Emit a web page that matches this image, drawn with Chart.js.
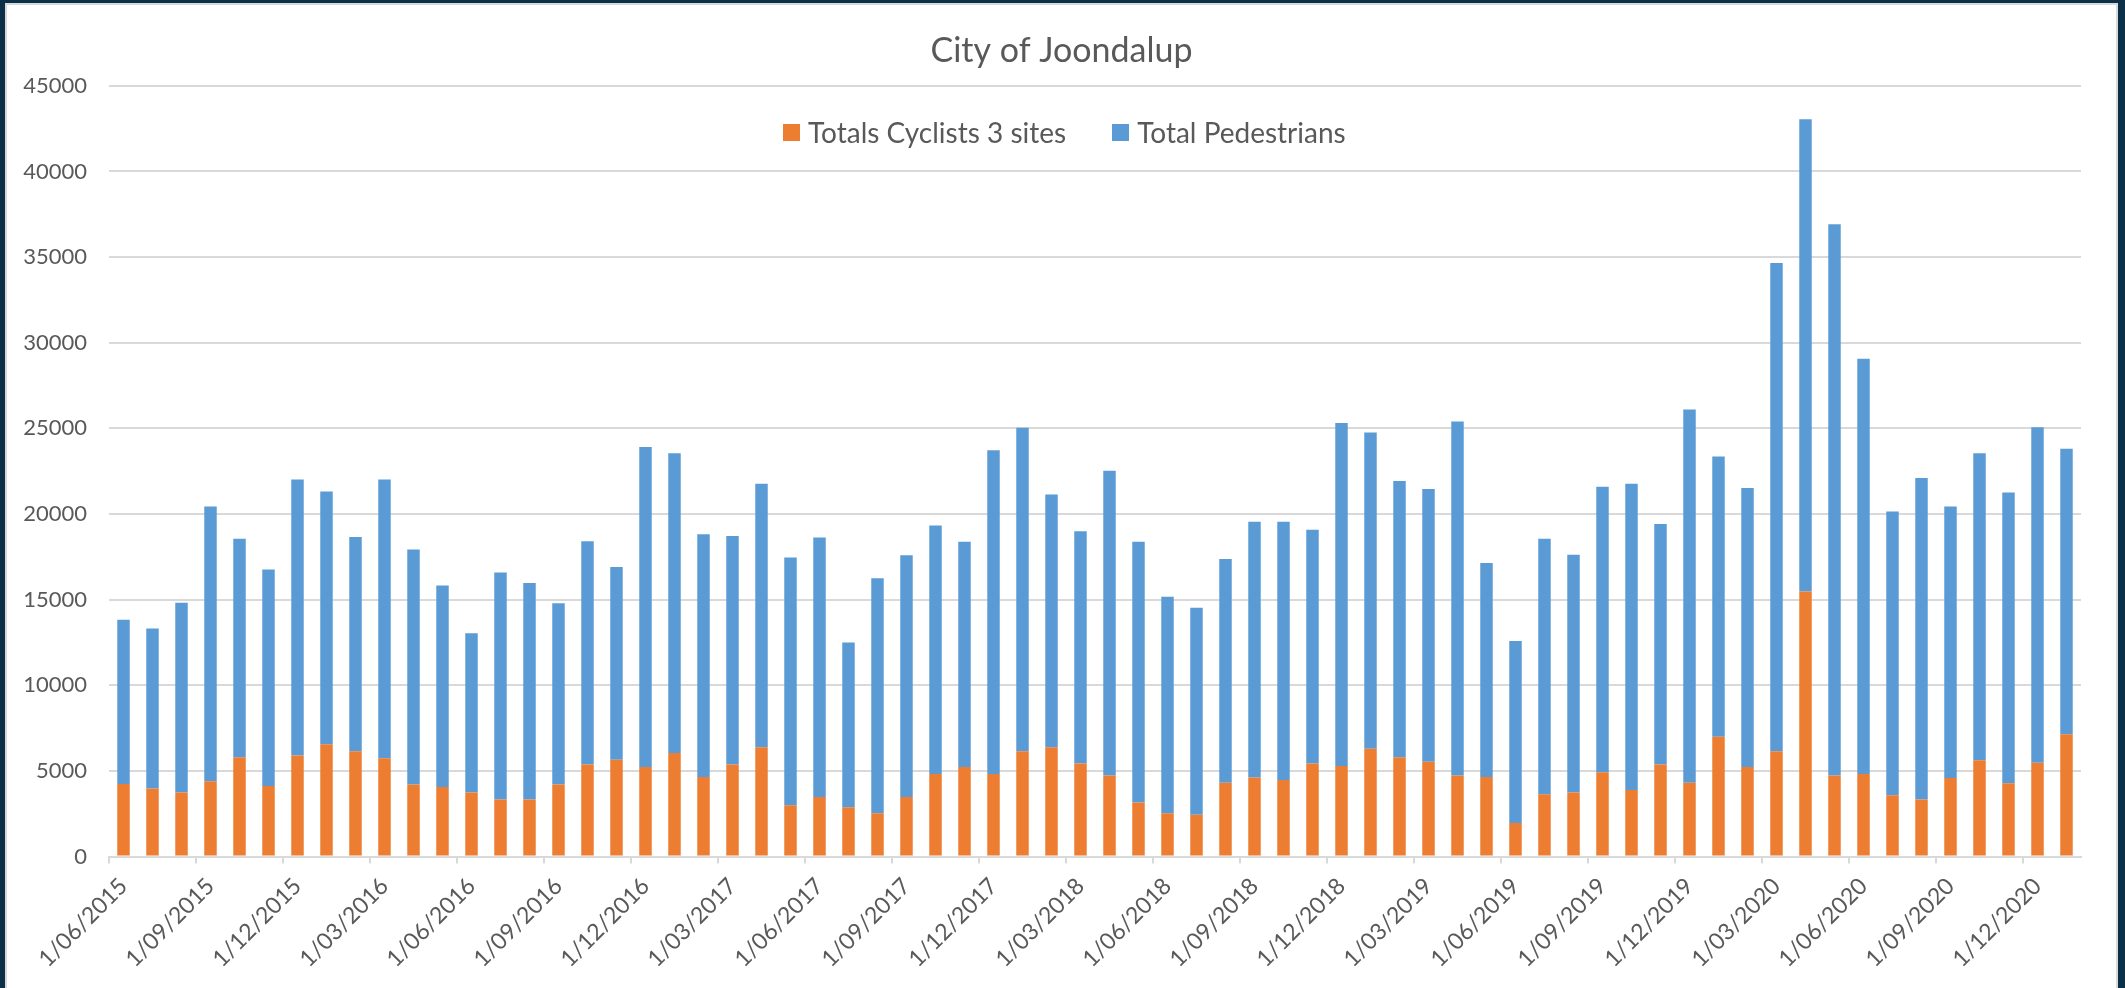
<!DOCTYPE html>
<html>
<head>
<meta charset="utf-8">
<title>City of Joondalup</title>
<script src="https://cdn.jsdelivr.net/npm/chart.js@4"></script>
<style>
    html, body {
        margin: 0;
        padding: 0;
        background: #0B3048;
        width: 2125px;
        height: 988px;
        overflow: hidden;
    }
    .frame {
        position: absolute;
        left: 5px;
        top: 3px;
        width: 2113px;
        height: 985px;
        box-sizing: border-box;
        background: #ffffff;
        border-left: 2px solid #D9D9D9;
        border-top: 2px solid #D9D9D9;
        border-right: 2px solid #D9D9D9;
    }
    .chart-wrap {
        position: relative;
        width: 2109px;
        height: 983px;
    }
    .legend {
        position: absolute;
        left: 776px;
        top: 108px;
        height: 38px;
        display: flex;
        align-items: center;
        font-family: Lato, "Open Sans", sans-serif;
        font-size: 28px;
        color: #595959;
    }
    .legend-item {
        display: flex;
        align-items: center;
        margin-right: 46px;
    }
    .legend-box {
        width: 17px;
        height: 17px;
        margin-right: 8px;
    }
</style>
</head>
<body>
<div class="frame">
    <div class="chart-wrap">
        <canvas id="joondalupChart" width="2109" height="983"></canvas>
        <div class="legend" id="legend"></div>
    </div>
</div>

<script>
// Months (every third one is labelled on the axis)
const months = [
    '1/06/2015', '1/07/2015', '1/08/2015', '1/09/2015', '1/10/2015', '1/11/2015', '1/12/2015',
    '1/01/2016', '1/02/2016', '1/03/2016', '1/04/2016', '1/05/2016', '1/06/2016', '1/07/2016',
    '1/08/2016', '1/09/2016', '1/10/2016', '1/11/2016', '1/12/2016', '1/01/2017', '1/02/2017',
    '1/03/2017', '1/04/2017', '1/05/2017', '1/06/2017', '1/07/2017', '1/08/2017', '1/09/2017',
    '1/10/2017', '1/11/2017', '1/12/2017', '1/01/2018', '1/02/2018', '1/03/2018', '1/04/2018',
    '1/05/2018', '1/06/2018', '1/07/2018', '1/08/2018', '1/09/2018', '1/10/2018', '1/11/2018',
    '1/12/2018', '1/01/2019', '1/02/2019', '1/03/2019', '1/04/2019', '1/05/2019', '1/06/2019',
    '1/07/2019', '1/08/2019', '1/09/2019', '1/10/2019', '1/11/2019', '1/12/2019', '1/01/2020',
    '1/02/2020', '1/03/2020', '1/04/2020', '1/05/2020', '1/06/2020', '1/07/2020', '1/08/2020',
    '1/09/2020', '1/10/2020', '1/11/2020', '1/12/2020', '1/01/2021'
];

// Totals Cyclists 3 sites (bottom of each stack)
const cyclists = [
    4240, 3970, 3730, 4400, 5800, 4120, 5890,
    6560, 6140, 5740, 4210, 4060, 3730, 3330,
    3330, 4210, 5370, 5650, 5220, 6050, 4640,
    5370, 6380, 2990, 3480, 2870, 2530, 3480,
    4820, 5220, 4820, 6140, 6380, 5430, 4730,
    3150, 2530, 2440, 4310, 4610, 4460, 5430,
    5280, 6290, 5800, 5530, 4730, 4640, 1950,
    3630, 3730, 4920, 3880, 5370, 4310, 6990,
    5220, 6140, 15480, 4730, 4820, 3570, 3330,
    4580, 5620, 4270, 5470, 7140
];

// Total Pedestrians (stacked on top)
const pedestrians = [
    9590, 9340, 11080, 16030, 12760, 12640, 16120,
    14750, 12510, 16270, 13710, 11760, 9310, 13250,
    12640, 10570, 13040, 11260, 18690, 17490, 14170,
    13350, 15390, 14470, 15140, 9620, 13710, 14110,
    14510, 13160, 18900, 18900, 14750, 13560, 17800,
    15230, 12640, 12090, 13060, 14930, 15080, 13650,
    20030, 18470, 16120, 15930, 20670, 12490, 10630,
    14930, 13890, 16670, 17890, 14050, 21790, 16370,
    16300, 28510, 27570, 32180, 24250, 16580, 18770,
    15850, 17920, 16980, 19600, 16670
];

const yTicks = [0, 5000, 10000, 15000, 20000, 25000, 30000, 35000, 40000, 45000];

const textColor = '#595959';
const gridColor = '#D9D9D9';
const fontFamily = 'Lato, "Open Sans", sans-serif';

document.addEventListener('DOMContentLoaded', function() {
    const ctx = document.getElementById('joondalupChart');

    const chart = new Chart(ctx, {
        type: 'bar',
        data: {
            labels: months,
            datasets: [
                {
                    label: 'Totals Cyclists 3 sites',
                    data: cyclists,
                    backgroundColor: '#ED7D31',
                    borderWidth: 0,
                    barPercentage: 0.43,
                    categoryPercentage: 1.0
                },
                {
                    label: 'Total Pedestrians',
                    data: pedestrians,
                    backgroundColor: '#5B9BD5',
                    borderWidth: 0,
                    barPercentage: 0.43,
                    categoryPercentage: 1.0
                }
            ]
        },
        options: {
            responsive: false,
            animation: false,
            layout: {
                padding: 0
            },
            plugins: {
                legend: {
                    display: false
                },
                tooltip: {
                    enabled: false
                },
                title: {
                    display: true,
                    text: 'City of Joondalup',
                    color: textColor,
                    font: {
                        family: fontFamily,
                        size: 34,
                        weight: 'normal'
                    },
                    padding: { top: 26, bottom: 14 }
                }
            },
            scales: {
                x: {
                    stacked: true,
                    grid: {
                        drawOnChartArea: false,
                        drawTicks: true,
                        tickLength: 7,
                        lineWidth: 2,
                        color: function(c) {
                            return c.index % 3 === 0 ? gridColor : 'rgba(0,0,0,0)';
                        }
                    },
                    border: {
                        color: gridColor,
                        width: 2
                    },
                    ticks: {
                        autoSkip: false,
                        maxRotation: 45,
                        minRotation: 45,
                        padding: 9,
                        color: textColor,
                        font: {
                            family: fontFamily,
                            size: 23
                        },
                        callback: function(value, index) {
                            return index % 3 === 0 ? months[index] : '';
                        }
                    },
                    afterFit: function(scale) {
                        scale.height = 131.5;
                    }
                },
                y: {
                    stacked: true,
                    min: 0,
                    max: 45000,
                    afterBuildTicks: function(scale) {
                        scale.ticks = yTicks.map(v => ({ value: v }));
                    },
                    grid: {
                        color: gridColor,
                        lineWidth: 2,
                        drawTicks: false
                    },
                    border: {
                        display: false
                    },
                    ticks: {
                        padding: 22,
                        color: textColor,
                        font: {
                            family: fontFamily,
                            size: 22
                        },
                        callback: function(value) {
                            return String(value);
                        }
                    },
                    afterFit: function(scale) {
                        scale.width = 102;
                    }
                },
                // empty spacer on the right so the title stays centred on the page
                spacer: {
                    type: 'linear',
                    position: 'right',
                    display: true,
                    grid: { display: false },
                    border: { display: false },
                    ticks: { display: false },
                    afterFit: function(scale) {
                        scale.width = 35;
                    }
                }
            }
        }
    });

    // HTML legend built from the chart datasets
    const legendEl = document.getElementById('legend');
    chart.data.datasets.forEach(ds => {
        const item = document.createElement('div');
        item.className = 'legend-item';
        const box = document.createElement('span');
        box.className = 'legend-box';
        box.style.background = ds.backgroundColor;
        const label = document.createElement('span');
        label.textContent = ds.label;
        item.appendChild(box);
        item.appendChild(label);
        legendEl.appendChild(item);
    });
});
</script>
</body>
</html>
